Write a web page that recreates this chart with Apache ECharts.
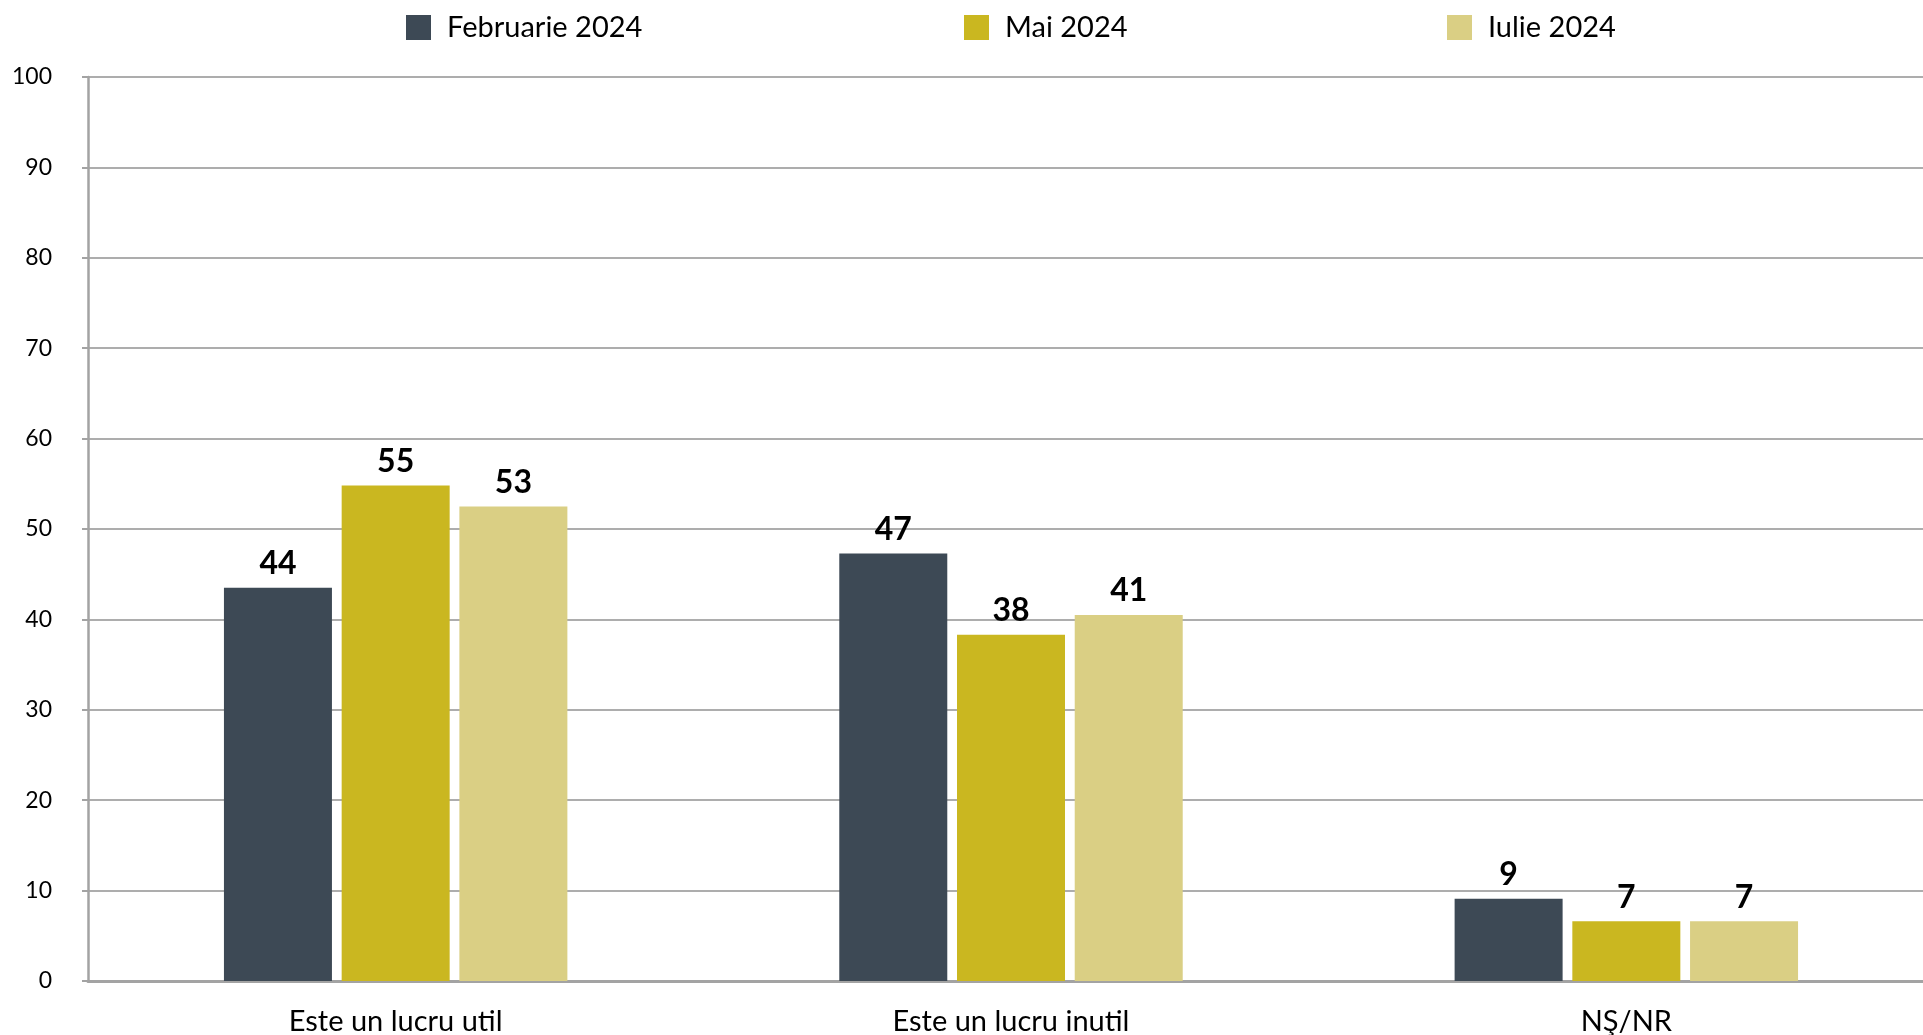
<!DOCTYPE html>
<html>
<head>
<meta charset="utf-8">
<script src="https://cdn.jsdelivr.net/npm/echarts@6/dist/echarts.min.js"></script>
<style>
html,body{margin:0;padding:0;background:#fff;}
#chart{width:1923px;height:1035px;}
</style>
</head>
<body>
<div id="chart"></div>
<script>
const categories = ['Este un lucru util', 'Este un lucru inutil', 'NŞ/NR'];
const seriesNames = ['Februarie 2024', 'Mai 2024', 'Iulie 2024'];
const feb2024 = [43.5, 47.3, 9.1];
const mai2024 = [54.8, 38.3, 6.6];
const iulie2024 = [52.5, 40.5, 6.6];
const yTicks = [0, 10, 20, 30, 40, 50, 60, 70, 80, 90, 100];

const colors = ['#3d4955', '#cab720', '#dacf84'];
const FONT = 'Lato';

const chart = echarts.init(document.getElementById('chart'));

function legendAt(name, left) {
  return {
    data: [name],
    left: left,
    top: 13,
    padding: 0,
    itemWidth: 25,
    itemHeight: 25,
    icon: 'rect',
    textStyle: { fontFamily: FONT, fontSize: 29, color: '#000', padding: [0, 0, 0, 11] }
  };
}

function barSeries(name, data, color) {
  return {
    name: name,
    type: 'bar',
    data: data,
    barWidth: 108,
    barGap: '9%',
    itemStyle: { color: color },
    label: {
      show: true,
      position: 'top',
      distance: 8,
      fontFamily: FONT,
      fontWeight: 'bold',
      fontSize: 32,
      color: '#000',
      formatter: p => String(Math.round(p.value))
    }
  };
}

chart.setOption({
  animation: false,
  backgroundColor: '#fff',
  legend: [
    legendAt(seriesNames[0], 406),
    legendAt(seriesNames[1], 964),
    legendAt(seriesNames[2], 1447)
  ],
  grid: { left: 88, width: 1846, top: 77, bottom: 54, containLabel: false, outerBoundsMode: 'none' },
  xAxis: {
    type: 'category',
    data: categories,
    axisLine: { show: true, lineStyle: { color: '#a3a3a3', width: 3 } },
    axisTick: { show: false },
    axisLabel: { fontFamily: FONT, fontSize: 29, color: '#000', margin: 26 }
  },
  yAxis: {
    type: 'value',
    min: yTicks[0],
    max: yTicks[yTicks.length - 1],
    interval: yTicks[1] - yTicks[0],
    axisLine: { show: true, lineStyle: { color: '#a3a3a3', width: 2.5 } },
    axisTick: { show: true, length: 6, lineStyle: { color: '#a3a3a3', width: 2 } },
    splitLine: { show: true, lineStyle: { color: '#adadad', width: 2 } },
    axisLabel: { fontFamily: FONT, fontSize: 23, color: '#000', margin: 36 }
  },
  series: [
    barSeries(seriesNames[0], feb2024, colors[0]),
    barSeries(seriesNames[1], mai2024, colors[1]),
    barSeries(seriesNames[2], iulie2024, colors[2])
  ]
});
</script>
</body>
</html>
